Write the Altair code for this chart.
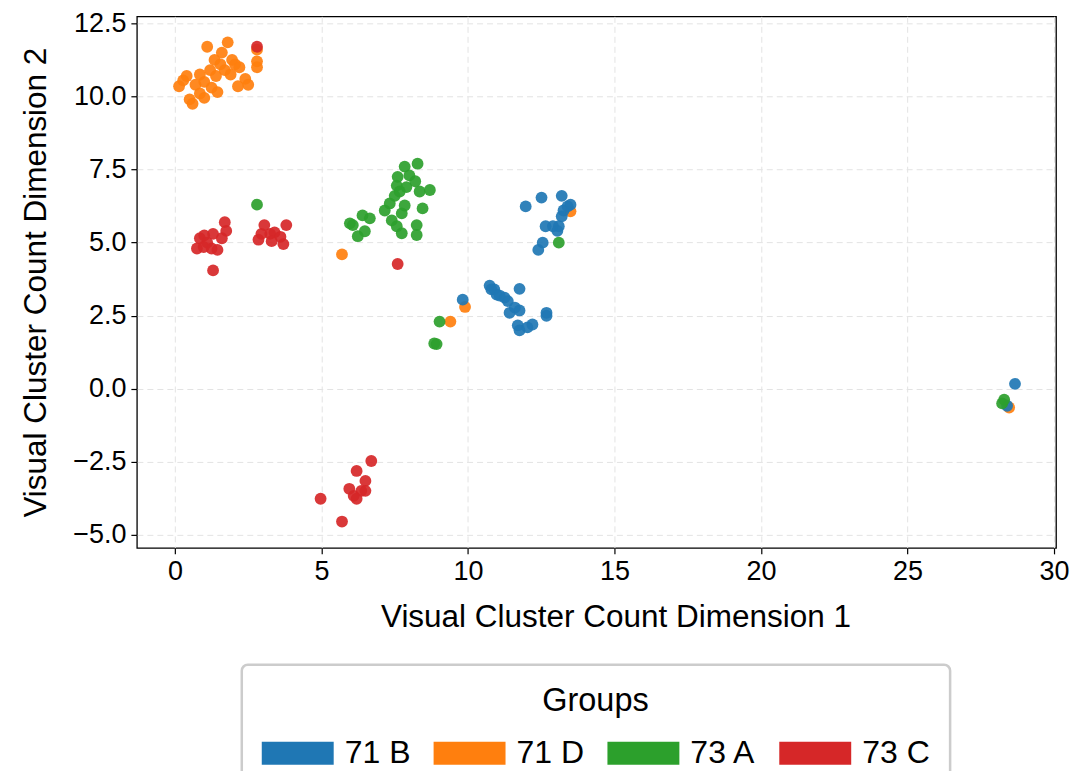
import altair as alt
import pandas as pd

# 71 D (orange)
x_71D = [0.14, 0.4, 0.5, 0.6, 0.85, 1.0, 1.1, 0.85, 1.25, 1.4, 1.6, 1.8, 1.55, 1.7, 1.9, 2.05, 2.15, 2.4,
         2.5, 2.8, 2.8, 2.8, 1.35, 1.95, 1.2, 0.7, 0.28, 2.2, 1.45, 1.0, 5.7, 9.9, 9.4, 13.5, 28.47]
y_71D = [10.35, 10.7, 9.9, 9.75, 10.1, 10.5, 11.7, 10.75, 10.3, 10.7, 11.5, 11.85, 11.1, 10.9, 10.75, 11.1, 10.35, 10.6,
         10.4, 11.2, 11.0, 11.6, 11.25, 11.25, 10.9, 10.4, 10.55, 11.0, 10.15, 9.95, 4.6, 2.8, 2.3, 6.07, -0.64]

# 71 B (blue)
x_71B = [11.97, 12.51, 13.2, 13.5, 13.26, 13.2, 13.1, 12.65, 12.9, 12.55, 12.4, 13.4, 13.05,
         10.74, 10.9, 10.98, 11.25, 11.36, 11.76, 11.42, 11.76, 11.6, 11.7, 11.76, 12.03, 12.2, 12.68, 12.68,
         10.8, 11.08, 9.82, 28.67, 28.4]
y_71B = [6.24, 6.54, 6.6, 6.3, 6.1, 5.9, 5.56, 5.56, 5.56, 5.0, 4.75, 6.24, 5.4,
         3.53, 3.4, 3.22, 3.12, 3.0, 3.42, 2.6, 2.68, 2.78, 2.17, 2.0, 2.1, 2.2, 2.5, 2.6,
         3.4, 3.19, 3.05, 0.17, -0.58]

# 73 A (green)
x_73A = [5.97, 6.4, 6.65, 6.24, 6.48, 6.07, 7.16, 7.4, 7.74, 7.57, 7.33, 7.5, 7.57, 7.6, 7.84, 8.28, 8.0,
         7.9, 8.2, 8.35, 8.7, 8.45, 8.25, 8.25, 7.74, 7.84, 7.67, 2.8, 13.1, 9.03, 8.93, 8.85, 28.23, 28.3]
y_73A = [5.66, 5.93, 5.83, 5.22, 5.39, 5.6, 6.1, 5.76, 5.32, 5.56, 6.34, 6.6, 6.95, 7.25, 7.6, 7.7, 7.3,
         6.9, 7.1, 6.75, 6.8, 6.17, 5.6, 5.26, 6.0, 6.27, 6.75, 6.3, 5.0, 2.3, 1.53, 1.55, -0.5, -0.37]

# 73 C (red)
x_73C = [2.8, 0.75, 0.85, 1.0, 1.3, 1.25, 1.45, 1.7, 1.75, 1.6, 1.1, 1.3, 0.98,
         2.85, 3.05, 3.25, 3.4, 3.6, 3.7, 3.8, 2.95, 3.3, 7.6,
         4.97, 5.7, 5.95, 6.1, 6.2, 6.36, 6.5, 6.5, 6.7, 6.2]
y_73C = [11.7, 4.8, 5.15, 5.25, 5.3, 4.8, 4.75, 5.7, 5.4, 5.15, 5.0, 4.05, 4.85,
         5.1, 5.6, 5.3, 5.35, 5.2, 4.95, 5.6, 5.3, 5.05, 4.27,
         -3.76, -4.54, -3.42, -3.66, -2.81, -3.49, -3.15, -3.49, -2.47, -3.76]

groups = ["71 B", "71 D", "73 A", "73 C"]
colors = ["#1f77b4", "#ff7f0e", "#2ca02c", "#d62728"]
x_ticks = [0, 5, 10, 15, 20, 25, 30]
y_ticks = [-5.0, -2.5, 0.0, 2.5, 5.0, 7.5, 10.0, 12.5]

rows = []
for g, xs, ys in [("71 D", x_71D, y_71D), ("71 B", x_71B, y_71B),
                  ("73 A", x_73A, y_73A), ("73 C", x_73C, y_73C)]:
    for a, b in zip(xs, ys):
        rows.append({"x": a, "y": b, "group": g})
df = pd.DataFrame(rows)
df["order"] = range(len(df))

FONT = "Liberation Sans"

chart = alt.Chart(df).mark_circle(size=140, opacity=0.92).encode(
    x=alt.X("x:Q", title="Visual Cluster Count Dimension 1",
            scale=alt.Scale(domain=[-1.3, 30.07], nice=False, zero=False),
            axis=alt.Axis(values=x_ticks, format="d", labelFontSize=27, titleFontSize=31.5,
                          titlePadding=17, labelPadding=5, titleX=479)),
    y=alt.Y("y:Q", title="Visual Cluster Count Dimension 2",
            scale=alt.Scale(domain=[-5.44, 12.74], nice=False, zero=False),
            axis=alt.Axis(values=y_ticks, format=".1f", labelFontSize=27, titleFontSize=31.5,
                          titlePadding=20, labelPadding=5)),
    color=alt.Color("group:N", scale=alt.Scale(domain=groups, range=colors),
                    legend=alt.Legend(
                        orient="none", legendX=105, legendY=649, direction="horizontal",
                        columns=4, title="Groups", titleAnchor="middle", titleOrient="top",
                        titleFontSize=32.5, titleFontWeight="normal", labelFontSize=32,
                        symbolType="M-1,-0.32L1,-0.32L1,0.32L-1,0.32Z", symbolSize=5184,
                        symbolStrokeWidth=0, symbolOpacity=1, labelOffset=11,
                        columnPadding=23, padding=20, fillColor="white",
                        strokeColor="#cccccc", cornerRadius=6, titlePadding=0)),
    order=alt.Order("order:Q"),
).properties(
    width=920, height=532,
    autosize=alt.AutoSizeParams(type="none"),
    padding={"left": 129, "top": 8, "right": 20, "bottom": 223},
).configure(font=FONT).configure_view(
    stroke="#000000", strokeWidth=1.3
).configure_axis(
    domain=False, grid=True, gridColor="#e3e3e3", gridDash=[6, 4], gridWidth=1,
    tickColor="#000000", tickSize=6, tickWidth=1.2, labelColor="#000000",
    titleColor="#000000", titleFontWeight="normal", labelFont=FONT, titleFont=FONT
).configure_legend(
    strokeWidth=2.5, labelFont=FONT, titleFont=FONT, labelColor="#000000", titleColor="#000000"
)

chart.save("out.html", embed_options={"renderer": "svg", "actions": False})
